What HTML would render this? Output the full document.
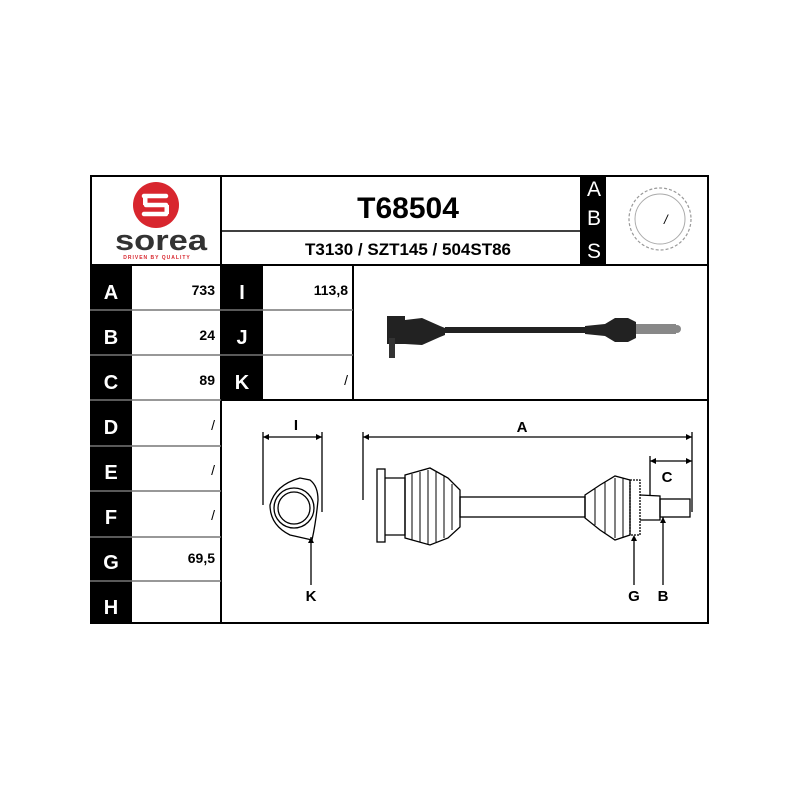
<!DOCTYPE html>
<html><head><style>body{margin:0;background:#fff}svg{display:block}</style></head><body>
<svg width="800" height="800" viewBox="0 0 800 800" xmlns="http://www.w3.org/2000/svg" font-family="Liberation Sans, sans-serif" font-weight="bold">
<rect width="800" height="800" fill="#fff"/>
<rect x="90" y="265" width="42" height="359" fill="#000"/>
<rect x="221" y="265" width="42" height="135" fill="#000"/>
<rect x="580" y="175" width="26" height="90" fill="#000"/>
<g stroke="#000" stroke-width="2" fill="none">
<rect x="91" y="176" width="617" height="447"/>
<line x1="221" y1="175" x2="221" y2="624"/>
<line x1="90" y1="265" x2="709" y2="265"/>
<line x1="221" y1="231" x2="580" y2="231" stroke-width="1.5"/>
<line x1="353" y1="265" x2="353" y2="400"/>
<line x1="221" y1="400" x2="709" y2="400"/>
</g>
<g stroke="#777" stroke-width="1.5">
<line x1="90" y1="310" x2="353" y2="310"/><line x1="90" y1="355" x2="353" y2="355"/>
<line x1="90" y1="400" x2="221" y2="400"/><line x1="90" y1="446" x2="221" y2="446"/>
<line x1="90" y1="491" x2="221" y2="491"/><line x1="90" y1="537" x2="221" y2="537"/>
<line x1="90" y1="581" x2="221" y2="581"/>
</g>
<circle cx="156" cy="205" r="23" fill="#d8262e"/>
<path d="M144 196 h22 M146 205 h20 M144 214 h22" stroke="#fff" stroke-width="4.5" stroke-linecap="round"/>
<rect x="143" y="196" width="4.5" height="9" fill="#fff"/><rect x="164.5" y="205" width="4.5" height="9" fill="#fff"/>
<text x="161" y="250" font-size="29" text-anchor="middle" fill="#333" textLength="92" lengthAdjust="spacingAndGlyphs">sorea</text>
<text x="157" y="259" font-size="5" text-anchor="middle" fill="#d8262e" letter-spacing="1">DRIVEN BY QUALITY</text>
<text x="408" y="218" font-size="30" text-anchor="middle">T68504</text>
<text x="408" y="255" font-size="17" text-anchor="middle">T3130 / SZT145 / 504ST86</text>
<g fill="#fff" font-size="21" text-anchor="middle" font-weight="normal">
<text x="594" y="196">A</text><text x="594" y="225">B</text><text x="594" y="258">S</text>
</g>
<circle cx="660" cy="219" r="31" fill="none" stroke="#999" stroke-width="1.2" stroke-dasharray="3 2"/>
<circle cx="660" cy="219" r="25" fill="none" stroke="#aaa" stroke-width="1"/>
<text x="664" y="224" font-size="13" font-weight="normal" font-style="italic">/</text>
<g fill="#fff" font-size="20" text-anchor="middle">
<text x="111" y="299">A</text><text x="111" y="344">B</text><text x="111" y="389">C</text>
<text x="111" y="434">D</text><text x="111" y="479">E</text><text x="111" y="524">F</text>
<text x="111" y="569">G</text><text x="111" y="614">H</text>
<text x="242" y="299">I</text><text x="242" y="344">J</text><text x="242" y="389">K</text>
</g>
<g font-size="14" text-anchor="end">
<text x="215" y="295">733</text><text x="215" y="340">24</text><text x="215" y="385">89</text>
<text x="215" y="430" font-weight="normal">/</text><text x="215" y="475" font-weight="normal">/</text><text x="215" y="520" font-weight="normal">/</text>
<text x="215" y="563">69,5</text>
<text x="348" y="295">113,8</text><text x="348" y="385" font-weight="normal">/</text>
</g>
<rect x="387" y="316" width="18" height="28" fill="#222"/>
<rect x="389" y="338" width="6" height="20" fill="#333"/>
<path d="M405 320 L422 318 L440 326 L445 328 L445 335 L440 337 L422 345 L405 344Z" fill="#222"/>
<rect x="445" y="327" width="140" height="6" fill="#222"/>
<path d="M585 326 L605 324 L615 318 L628 318 L636 322 L636 338 L628 342 L615 342 L605 336 L585 334Z" fill="#222"/>
<rect x="636" y="324" width="40" height="10" fill="#888"/>
<circle cx="677" cy="329" r="4" fill="#888"/>
<g stroke="#000" stroke-width="1.3" fill="none">
<line x1="263" y1="437" x2="322" y2="437"/><line x1="263" y1="432" x2="263" y2="505"/><line x1="322" y1="432" x2="322" y2="512"/>
<path d="M270 505 Q275 485 300 478 L310 480 Q318 486 318 500 Q316 522 312 540 L290 535 Q270 525 270 505Z"/>
<circle cx="294" cy="508" r="20"/><circle cx="294" cy="508" r="16"/>
<line x1="311" y1="537" x2="311" y2="585"/>
<line x1="363" y1="437" x2="692" y2="437"/><line x1="363" y1="432" x2="363" y2="500"/><line x1="692" y1="432" x2="692" y2="512"/>
<line x1="650" y1="461" x2="692" y2="461"/><line x1="650" y1="456" x2="650" y2="495"/>
<rect x="377" y="469" width="8" height="73" fill="#fff"/>
<path d="M385 478 L405 478 L405 535 L385 535"/>
<path d="M405 475 L430 468 L448 478 L460 490 L460 527 L448 538 L430 545 L405 538Z"/>
<g stroke-width="1"><line x1="412" y1="474" x2="412" y2="540"/><line x1="420" y1="472" x2="420" y2="542"/><line x1="428" y1="470" x2="428" y2="544"/><line x1="436" y1="472" x2="436" y2="542"/><line x1="444" y1="476" x2="444" y2="538"/><line x1="452" y1="484" x2="452" y2="530"/></g>
<rect x="460" y="497" width="125" height="20"/>
<path d="M585 495 L600 485 L615 476 L630 480 L630 535 L615 540 L600 530 L585 518Z"/>
<g stroke-width="1"><line x1="595" y1="489" x2="595" y2="525"/><line x1="605" y1="482" x2="605" y2="534"/><line x1="615" y1="478" x2="615" y2="538"/><line x1="623" y1="478" x2="623" y2="538"/></g>
<rect x="630" y="480" width="10" height="55" stroke-dasharray="2 1"/>
<path d="M640 495 L660 496 L660 520 L640 520"/>
<rect x="660" y="499" width="30" height="18"/>
<line x1="634" y1="540" x2="634" y2="585"/><line x1="663" y1="517" x2="663" y2="585"/>
</g>
<g fill="#000">
<path d="M263 437 l6 -3 v6z M322 437 l-6 -3 v6z M363 437 l6 -3 v6z M692 437 l-6 -3 v6z M650 461 l6 -3 v6z M692 461 l-6 -3 v6z"/>
<path d="M311 537 l-3 6 h6z M634 535 l-3 6 h6z M663 517 l-3 6 h6z"/>
</g>
<g font-size="15" text-anchor="middle">
<text x="296" y="430">I</text><text x="522" y="432">A</text><text x="667" y="482">C</text>
<text x="311" y="601">K</text><text x="634" y="601">G</text><text x="663" y="601">B</text>
</g>
</svg>
</body></html>
